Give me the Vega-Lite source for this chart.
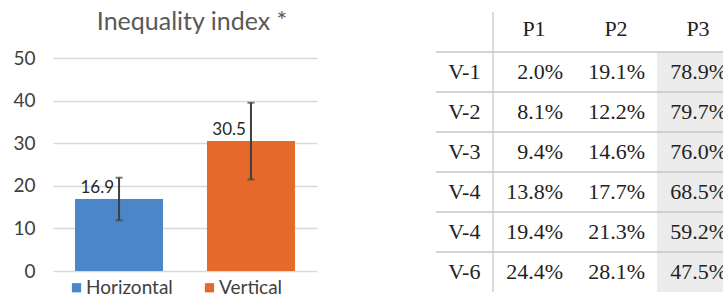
{
  "$schema": "https://vega.github.io/schema/vega-lite/v6.json",
  "padding": {"left": 12, "top": 10, "right": 0, "bottom": 0},
  "spacing": 118,
  "resolve": {"scale": {"color": "independent"}, "legend": {"color": "independent"}},
  "config": {
    "view": {"stroke": null},
    "font": "Lato",
    "axisY": {"domain": false, "ticks": false, "labelPadding": 18, "labelFontSize": 19, "labelFont": "Lato", "labelColor": "#404040", "gridColor": "#d9d9d9", "gridWidth": 1.5, "tickCount": 5, "title": null}
  },
  "datasets": {
    "bars": [
      {"group": "Horizontal", "value": 16.9, "lo": 11.9, "hi": 21.9},
      {"group": "Vertical", "value": 30.5, "lo": 21.5, "hi": 39.5}
    ],
    "cols": [{"c": "P1"}, {"c": "P2"}, {"c": "P3"}],
    "rows": [
      {"r": 1, "row": "V-1"}, {"r": 2, "row": "V-2"}, {"r": 3, "row": "V-3"},
      {"r": 4, "row": "V-4"}, {"r": 5, "row": "V-4"}, {"r": 6, "row": "V-6"}
    ],
    "cells": [
      {"r": 1, "c": "P1", "p": 0.020}, {"r": 1, "c": "P2", "p": 0.191}, {"r": 1, "c": "P3", "p": 0.789},
      {"r": 2, "c": "P1", "p": 0.081}, {"r": 2, "c": "P2", "p": 0.122}, {"r": 2, "c": "P3", "p": 0.797},
      {"r": 3, "c": "P1", "p": 0.094}, {"r": 3, "c": "P2", "p": 0.146}, {"r": 3, "c": "P3", "p": 0.760},
      {"r": 4, "c": "P1", "p": 0.138}, {"r": 4, "c": "P2", "p": 0.177}, {"r": 4, "c": "P3", "p": 0.685},
      {"r": 5, "c": "P1", "p": 0.194}, {"r": 5, "c": "P2", "p": 0.213}, {"r": 5, "c": "P3", "p": 0.592},
      {"r": 6, "c": "P1", "p": 0.244}, {"r": 6, "c": "P2", "p": 0.281}, {"r": 6, "c": "P3", "p": 0.475}
    ]
  },
  "hconcat": [
    {
      "width": 264,
      "height": 213,
      "title": {"text": "Inequality index *", "fontSize": 25, "font": "Lato", "fontWeight": "normal", "color": "#595959", "offset": 14, "dx": 7},
      "data": {"name": "bars"},
      "encoding": {
        "x": {"field": "group", "type": "nominal", "axis": null, "scale": {"paddingInner": 0.333, "paddingOuter": 0.167}}
      },
      "layer": [
        {
          "mark": {"type": "bar"},
          "encoding": {
            "y": {"field": "value", "type": "quantitative", "scale": {"domain": [0, 50]}, "title": null},
            "color": {"field": "group", "type": "nominal", "scale": {"domain": ["Horizontal", "Vertical"], "range": ["#4A86C8", "#E5692B"]},
              "legend": {"orient": "none", "legendX": 14, "legendY": 220, "direction": "horizontal", "title": null, "symbolType": "square", "symbolSize": 85, "symbolStrokeWidth": 0, "labelFontSize": 19, "labelFont": "Lato", "labelColor": "#404040", "columnPadding": 27, "labelOffset": 0}}
          }
        },
        {
          "mark": {"type": "text", "align": "right", "baseline": "alphabetic", "dx": -5, "dy": -6, "fontSize": 17, "font": "Lato", "color": "#262626"},
          "encoding": {
            "y": {"field": "value", "type": "quantitative", "title": null},
            "text": {"field": "value", "type": "quantitative", "format": ".1f"}
          }
        },
        {
          "mark": {"type": "errorbar", "ticks": {"size": 7, "thickness": 2}, "thickness": 2, "color": "#404040"},
          "encoding": {
            "y": {"field": "lo", "type": "quantitative", "title": null},
            "y2": {"field": "hi"}
          }
        }
      ]
    },
    {
      "width": 288,
      "height": 234,
      "layer": [
        {
          "data": {"name": "cells"},
          "transform": [{"filter": "datum.c == 'P3'"}],
          "mark": {"type": "rect", "color": "#ececec"},
          "encoding": {
            "x": {"field": "c", "type": "nominal", "axis": null, "scale": {"domain": ["lab", "P1", "P2", "P3"], "range": [-25, 303], "paddingInner": 0, "paddingOuter": 0}},
            "y": {"field": "r", "type": "ordinal", "axis": null, "scale": {"domain": [0, 1, 2, 3, 4, 5, 6], "range": [-46, 234], "paddingInner": 0, "paddingOuter": 0}}
          }
        },
        {
          "data": {"name": "rows"},
          "mark": {"type": "rule", "color": "#c6c6c6", "strokeWidth": 1.5},
          "encoding": {
            "y": {"field": "r", "type": "ordinal", "bandPosition": 0, "axis": null}
          }
        },
        {
          "data": {"name": "cols"},
          "transform": [{"filter": "datum.c == 'P1'"}],
          "mark": {"type": "rule", "color": "#cfcfcf", "strokeWidth": 1.5},
          "encoding": {
            "x": {"field": "c", "type": "nominal", "bandPosition": 0, "axis": null},
            "y": {"datum": 0, "type": "ordinal", "bandPosition": 0, "axis": null},
            "y2": {"datum": 6, "bandPosition": 1}
          }
        },
        {
          "data": {"name": "cols"},
          "mark": {"type": "text", "align": "center", "baseline": "middle", "dy": -3, "fontSize": 22, "font": "Liberation Serif", "color": "#222222"},
          "encoding": {
            "x": {"field": "c", "type": "nominal", "axis": null},
            "y": {"datum": 0, "type": "ordinal", "axis": null},
            "text": {"field": "c"}
          }
        },
        {
          "data": {"name": "cells"},
          "mark": {"type": "text", "align": "right", "baseline": "middle", "fontSize": 22, "font": "Liberation Serif", "color": "#222222", "clip": true},
          "encoding": {
            "x": {"field": "c", "type": "nominal", "bandPosition": 0.855, "axis": null},
            "y": {"field": "r", "type": "ordinal", "axis": null},
            "text": {"field": "p", "type": "quantitative", "format": ".1%"}
          }
        },
        {
          "data": {"name": "rows"},
          "mark": {"type": "text", "align": "center", "baseline": "middle", "fontSize": 22, "font": "Liberation Serif", "color": "#222222"},
          "encoding": {
            "x": {"datum": "lab", "type": "nominal", "bandPosition": 0.65, "axis": null},
            "y": {"field": "r", "type": "ordinal", "axis": null},
            "text": {"field": "row"}
          }
        }
      ]
    }
  ]
}
